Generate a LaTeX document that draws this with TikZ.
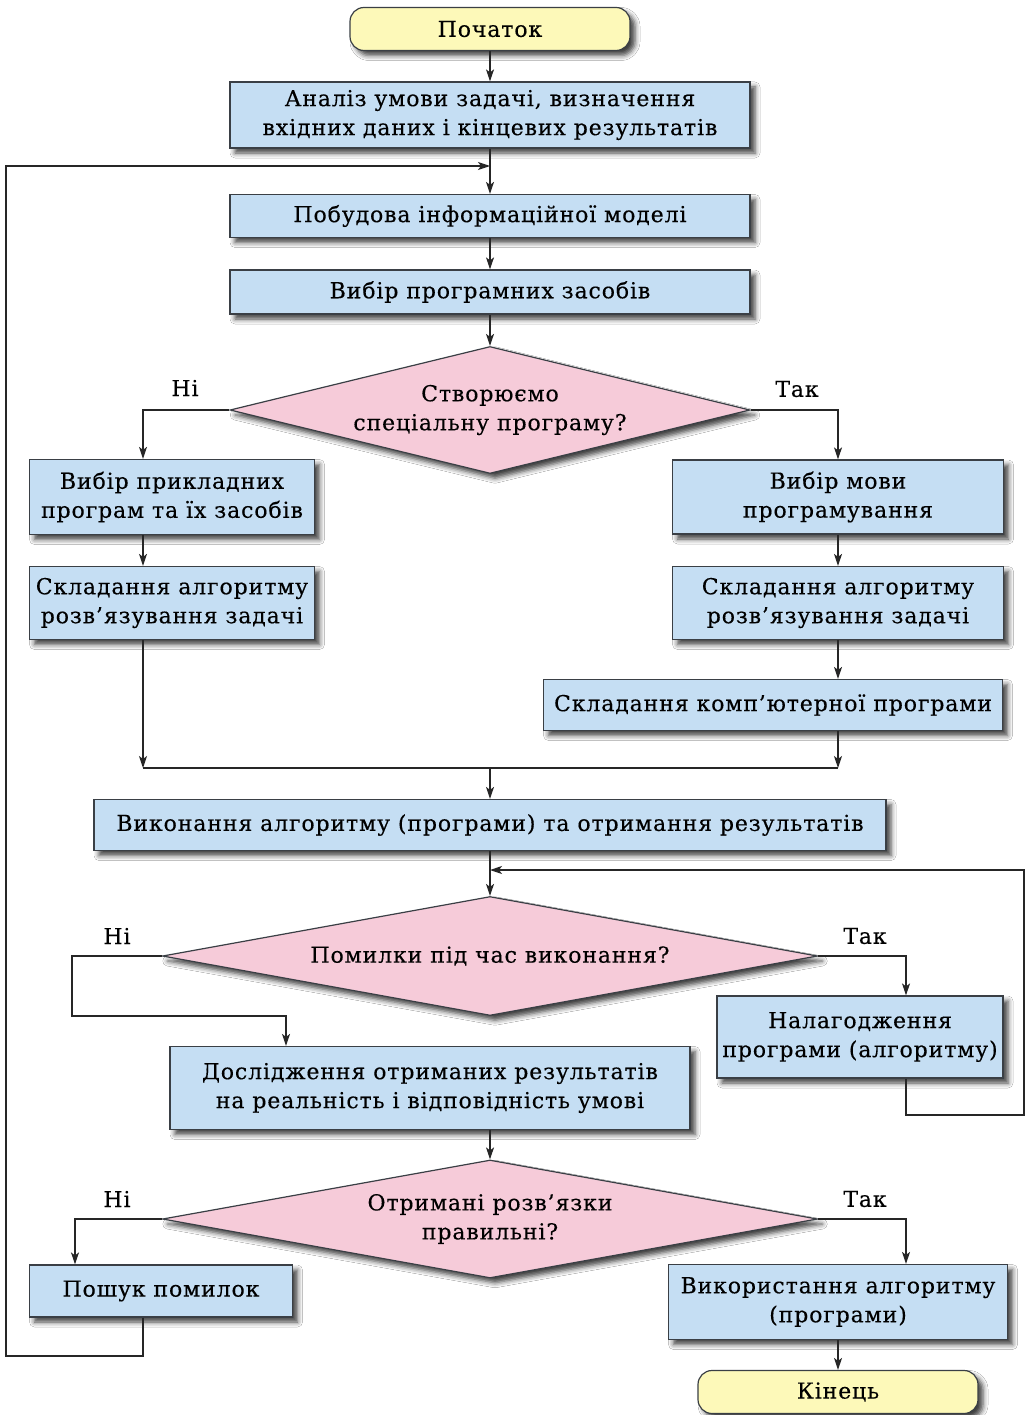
\documentclass[tikz,border=0pt]{standalone}
\usepackage{fontspec}
\setmainfont{DejaVu Serif}[LetterSpace=4,FakeBold=0.3]
\usetikzlibrary{shapes.geometric,arrows.meta,shadows.blur,calc}
\definecolor{boxblue}{HTML}{C5DEF3}
\definecolor{dpink}{HTML}{F6CBD9}
\definecolor{tyellow}{HTML}{FDF9B9}
\definecolor{edgec}{HTML}{3A3F45}
\begin{document}
\begin{tikzpicture}[x=1pt,y=-1pt,
 base/.style={draw=edgec, line width=1.2pt, font=\fontsize{22}{29}\selectfont, align=center, inner sep=0pt,
   blur shadow={shadow xshift=5pt, shadow yshift=-5pt, shadow blur radius=5pt, shadow opacity=75}},
 proc/.style={base, rectangle, fill=boxblue},
 term/.style={base, rounded corners=14pt, fill=tyellow},
 dec/.style={base, diamond, fill=dpink},
 conn/.style={line width=1.2pt, draw=black!85, -{Stealth[length=12pt,width=8pt,inset=3pt]}},
 plain/.style={line width=1.2pt, draw=black!85},
 lbl/.style={font=\fontsize{22}{24}\selectfont, inner sep=0pt}]

\useasboundingbox (0,0) rectangle (1026,1415);
\fill[white] (0,0) rectangle (1026,1415);

% named x / y references
\coordinate (xL) at (143,0);
\coordinate (xR) at (838,0);
\coordinate (xFar) at (6,0);
\coordinate (xRR) at (1024,0);
\coordinate (x2L) at (72,0);
\coordinate (x2R) at (906,0);
\coordinate (x3L) at (75,0);
\coordinate (xRes) at (286,0);
\coordinate (merge) at (490,768);
\coordinate (yA) at (0,1016);
\coordinate (yB) at (0,1115);
\coordinate (yC) at (0,1356);
\coordinate (loopA) at (490,166);
\coordinate (loopB) at (490,870);

% nodes
\node[term, minimum width=280pt, minimum height=43pt] (start) at (490,29) {Початок};
\node[proc, minimum width=520pt, minimum height=66pt] (b1) at (490,115) {Аналіз умови задачі, визначення\\вхідних даних і кінцевих результатів};
\node[proc, minimum width=520pt, minimum height=43pt] (b2) at (490,216) {Побудова інформаційної моделі};
\node[proc, minimum width=520pt, minimum height=44pt] (b3) at (490,292) {Вибір програмних засобів};
\node[dec, aspect=4.09, minimum width=520pt, minimum height=127pt] (d1) at (490,410) {Створюємо\\спеціальну програму?};
\node[proc, minimum width=285pt, minimum height=75pt] (l1) at (172,497) {Вибір прикладних\\програм та їх засобів};
\node[proc, minimum width=285pt, minimum height=73pt] (l2) at (172,603) {Складання алгоритму\\розв’язування задачі};
\node[proc, minimum width=331pt, minimum height=74pt] (r1) at (838,497) {Вибір мови\\програмування};
\node[proc, minimum width=331pt, minimum height=73pt] (r2) at (838,603) {Складання алгоритму\\розв’язування задачі};
\node[proc, minimum width=459pt, minimum height=51pt] (r3) at (773,705) {Складання комп’ютерної програми};
\node[proc, minimum width=792pt, minimum height=51pt] (exec) at (490,825) {Виконання алгоритму (програми) та отримання результатів};
\node[dec, aspect=5.5, minimum width=655pt, minimum height=119pt] (d2) at (490,956) {Помилки під час виконання?};
\node[proc, minimum width=286pt, minimum height=82pt] (dbg) at (860,1037) {Налагодження\\програми (алгоритму)};
\node[proc, minimum width=520pt, minimum height=83pt] (res) at (430,1088) {Дослідження отриманих результатів\\на реальність і відповідність умові};
\node[dec, aspect=5.55, minimum width=655pt, minimum height=118pt] (d3) at (490,1219) {Отримані розв’язки\\правильні?};
\node[proc, minimum width=263pt, minimum height=52pt] (srch) at (161,1291) {Пошук помилок};
\node[proc, minimum width=339pt, minimum height=75pt] (use) at (838,1302) {Використання алгоритму\\(програми)};
\node[term, minimum width=280pt, minimum height=43pt] (end) at (838,1392) {Кінець};

% labels
\node[lbl] (n1) at (185,388) {Ні};
\node[lbl] (t1) at (797,389) {Так};
\node[lbl] (n2) at (117,936) {Ні};
\node[lbl] (t2) at (865,936) {Так};
\node[lbl] (n3) at (117,1199) {Ні};
\node[lbl] (t3) at (865,1199) {Так};

% connectors
\draw[conn] (start) -- (b1);
\draw[conn] (b1) -- (b2);
\draw[conn] (b2) -- (b3);
\draw[conn] (b3) -- (d1);
\draw[conn] (d1.west) -| (l1.north -| xL);
\draw[conn] (d1.east) -| (r1.north -| xR);
\draw[conn] (l1.south -| xL) -- (l2.north -| xL);
\draw[conn] (l2.south -| xL) -- (merge -| xL);
\draw[conn] (r1) -- (r2);
\draw[conn] (r2.south) -- (r3.north -| r2.south);
\draw[conn] (r3.south -| xR) -- (merge -| xR);
\draw[plain] (merge -| xL) -- (merge -| xR);
\draw[conn] (merge) -- (exec);
\draw[conn] (exec) -- (d2);
\draw[conn] (d2.west) -| (yA -| x2L) -| (res.north -| xRes);
\draw[conn] (d2.east) -| (dbg.north -| x2R);
\draw[conn] (dbg.south -| x2R) |- (yB -| xRR) |- (loopB);
\draw[conn] (res.south -| d3.north) -- (d3.north);
\draw[conn] (d3.west) -| (srch.north -| x3L);
\draw[conn] (d3.east) -| (use.north -| x2R);
\draw[conn] (srch.south -| xL) |- (yC -| xFar) |- (loopA);
\draw[conn] (use) -- (end);
\end{tikzpicture}
\end{document}
